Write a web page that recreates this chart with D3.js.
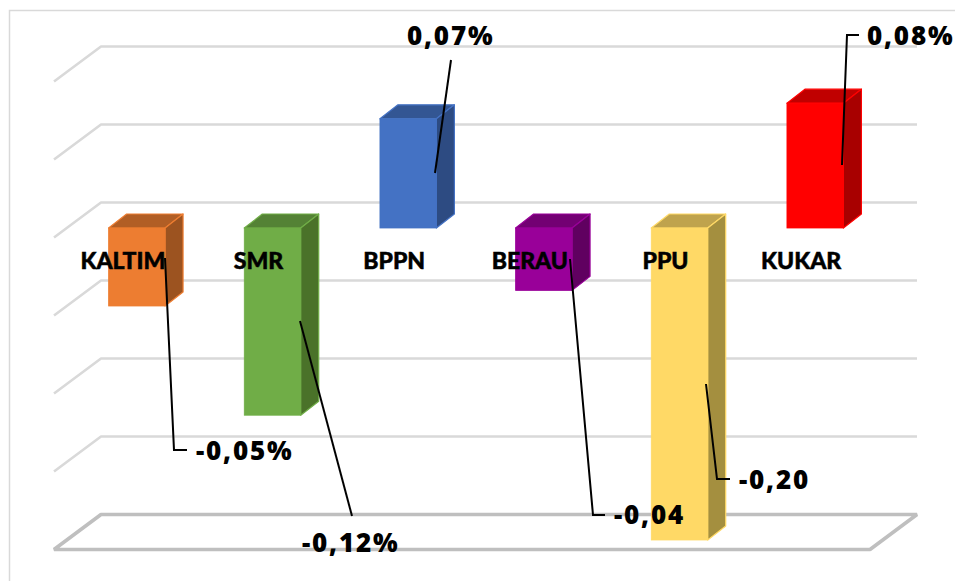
<!DOCTYPE html>
<html><head><meta charset="utf-8">
<script src="https://cdn.jsdelivr.net/npm/d3@7"></script>
<style>html,body{margin:0;padding:0;background:#fff;overflow:hidden}svg{display:block}</style>
</head><body><svg id="c" width="955" height="581"></svg>
<script>
const categories=["KALTIM","SMR","BPPN","BERAU","PPU","KUKAR"];
const values=[-0.05,-0.12,0.07,-0.04,-0.20,0.08];
const valueLabels=["-0,05%","-0,12%","0,07%","-0,04","-0,20","0,08%"];
const gridValues=[0.10,0.05,0,-0.05,-0.10,-0.15];
const floorValue=-0.20;
const frontColors=["#ED7D31","#70AD47","#4472C4","#990099","#FFD966","#FF0000"];
const topColors=["#B15E25","#548235","#335693","#730073","#BFA34D","#C00000"];
const sideColors=["#9C5320","#4A7229","#2D4B82","#600060","#A48F3F","#A80000"];

// callout layout, kept apart from the data
const calloutPaths=[
 [[165,258],[174,450],[187,450]],
 [[300,321],[352,516]],
 [[435,173],[451,60]],
 [[570,259],[593,515],[605,515]],
 [[706,384],[717,479],[730,479]],
 [[842,165],[847,35],[859,35]]];
const calloutText=[[196,460],[302,552],[407,45],[614,524],[739,489],[867,45]];

const svg=d3.select("#c");
const y=d3.scaleLinear().domain([-0.2,0.1]).range([514.5,46.5]);
const x=d3.scaleBand().domain(categories).range([69,883]);
const barW=x.bandwidth()*0.416;
const wall={left:101,right:917,dx:-47,dy:35};      // back wall edge and floor depth
const bar={front:25.5,dx:18,dy:-14};               // bar front offset from the wall, bar depth

// chart frame
svg.append("path").attr("d",`M955,10.5H9.5V581`).attr("fill","none").attr("stroke","#d9d9d9").attr("stroke-width",1.5);

// gridlines
const g=svg.append("g").attr("fill","none");
g.selectAll("path.grid").data(gridValues).join("path").attr("class","grid")
 .attr("d",v=>`M${wall.left+wall.dx},${y(v)+wall.dy}L${wall.left},${y(v)}H${wall.right}`)
 .attr("stroke","#d9d9d9").attr("stroke-width",2.6).attr("stroke-linejoin","round");
// floor
g.append("path").attr("d",`M${wall.left},${y(floorValue)}H${wall.right}L${wall.right+wall.dx},${y(floorValue)+wall.dy}H${wall.left+wall.dx}Z`)
 .attr("stroke","#bfbfbf").attr("stroke-width",3.6).attr("stroke-linejoin","bevel");

// 3D bars
const bars=svg.append("g").selectAll("g").data(categories.map((c,i)=>({c,v:values[i],i}))).join("g");
const X0=d=>x(d.c)+(x.bandwidth()-barW)/2, X1=d=>X0(d)+barW;
const Yt=d=>Math.min(y(d.v),y(0))+bar.front, Yb=d=>Math.max(y(d.v),y(0))+bar.front;
bars.append("path").attr("fill",d=>topColors[d.i]).attr("stroke",d=>frontColors[d.i]).attr("stroke-width",1.2)
 .attr("stroke-linejoin","round")
 .attr("d",d=>`M${X0(d)},${Yt(d)}l${bar.dx},${bar.dy}H${X1(d)+bar.dx}L${X1(d)},${Yt(d)}Z`);
bars.append("path").attr("fill",d=>sideColors[d.i]).attr("stroke",d=>frontColors[d.i]).attr("stroke-width",1.2)
 .attr("stroke-linejoin","round")
 .attr("d",d=>`M${X1(d)},${Yt(d)}l${bar.dx},${bar.dy}V${Yb(d)+bar.dy}L${X1(d)},${Yb(d)}Z`);
bars.append("rect").attr("fill",d=>frontColors[d.i]).attr("stroke",d=>frontColors[d.i]).attr("stroke-width",0.8)
 .attr("x",X0).attr("width",barW).attr("y",Yt).attr("height",d=>Yb(d)-Yt(d));

// category axis
const axis=svg.append("g").attr("transform",`translate(-14,${y(0)+46})`)
 .call(d3.axisBottom(x).tickSize(0).tickPadding(0));
axis.select(".domain").remove();
axis.selectAll("text").attr("fill","#000").attr("dy",null).attr("y",20)
 .style("font","900 23px Lato,sans-serif").style("stroke","#000").style("stroke-width","0.5px").attr("text-anchor","middle");

// callouts
svg.append("g").selectAll("path").data(calloutPaths).join("path")
 .attr("d",d3.line()).attr("fill","none").attr("stroke","#000").attr("stroke-width",2);
svg.append("g").selectAll("text").data(valueLabels).join("text")
 .attr("x",(d,i)=>calloutText[i][0]).attr("y",(d,i)=>calloutText[i][1])
 .text(d=>d).attr("fill","#000")
 .style("font","800 26px 'Open Sans',sans-serif").style("letter-spacing","1.8px");
</script></body></html>
